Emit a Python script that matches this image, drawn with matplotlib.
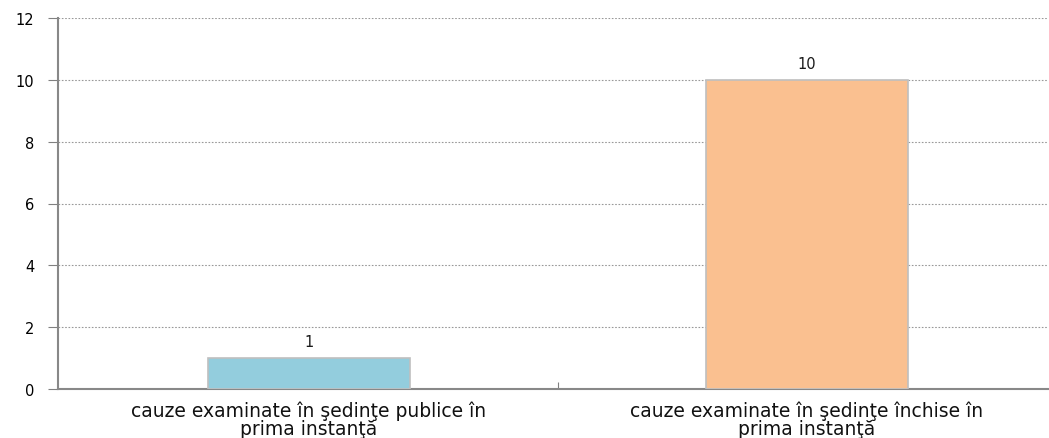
import numpy as np
import matplotlib.pyplot as plt

categories = ["cauze examinate în şedinţe publice în\nprima instanţă",
              "cauze examinate în şedinţe închise în\nprima instanţă"]
values = [1, 10]
colors = ["#93CDDD", "#FAC090"]
yticks = [0, 2, 4, 6, 8, 10, 12]

W, H = 1049, 439
fig = plt.figure(figsize=(W/100, H/100), dpi=100)
ax = fig.add_axes([58/W, 1-390/H, (1048-58)/W, (390-19)/H])

x = np.arange(len(categories))
bars = ax.bar(x, values, width=0.405, color=colors, edgecolor="#BFBFBF", linewidth=1.2, zorder=3)
for b, v in zip(bars, values):
    ax.text(b.get_x()+b.get_width()/2, v+0.3, str(v), ha="center", va="bottom",
            fontsize=10.5, family="DejaVu Sans", color="#1a1a1a")

ax.set_xlim(-0.504, 1.484)
ax.set_ylim(0, 12)
ax.set_yticks(yticks)
ax.set_yticklabels([str(t) for t in yticks], family="DejaVu Sans", fontsize=10.5)
ax.set_xticks([0.5])
ax.set_xticklabels([])
ax.tick_params(axis="x", direction="in", length=5, color="#808080")
ax.tick_params(axis="y", length=7, color="#808080", pad=10)
for i, c in enumerate(categories):
    ax.text(i, -0.38, c, ha="center", va="top", fontsize=13.5, family="DejaVu Sans",
            linespacing=0.95, color="#111111")

ax.grid(axis="y", linestyle=(0, (1.5, 1.5)), color="#999999", linewidth=0.8, zorder=0)
for s in ["top", "right"]:
    ax.spines[s].set_visible(False)
ax.spines["left"].set_color("#888888")
ax.spines["left"].set_linewidth(1.5)
ax.spines["bottom"].set_color("#888888")
ax.spines["bottom"].set_linewidth(1.5)

fig.savefig("out.png", dpi=100)
